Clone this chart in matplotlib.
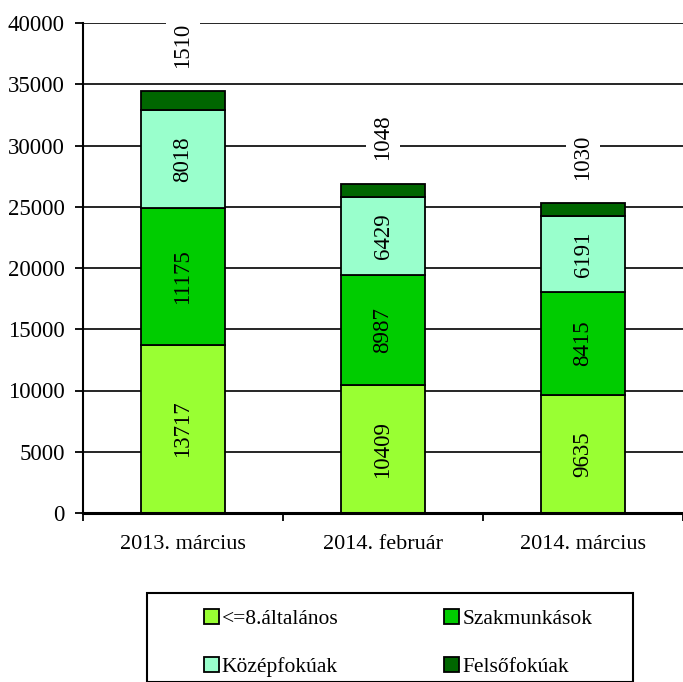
import matplotlib
matplotlib.use("Agg")
import matplotlib.pyplot as plt
import matplotlib.patches as mpatches
import numpy as np

plt.rcParams["font.family"] = ["Liberation Serif", "DejaVu Serif"]

categories = ["2013. március", "2014. február", "2014. március"]
series_names = ["<=8.általános", "Szakmunkások", "Középfokúak", "Felsőfokúak"]
altalanos = [13717, 10409, 9635]
szakmunkas = [11175, 8987, 8415]
kozepfoku = [8018, 6429, 6191]
felsofoku = [1510, 1048, 1030]
colors = ["#99FF33", "#00CC00", "#99FFCC", "#006600"]

fig = plt.figure(figsize=(6.83, 6.82), dpi=100)
ax = fig.add_axes([83 / 683, 1 - 513 / 682, 600 / 683, 490 / 682])

x = np.arange(len(categories))
bottom = np.zeros(len(categories))
for name, vals, col in zip(series_names, [altalanos, szakmunkas, kozepfoku, felsofoku], colors):
    bars = ax.bar(x, vals, width=0.42, bottom=bottom, color=col, edgecolor="black",
                  linewidth=1.3, label=name, zorder=3)
    bottom += np.array(vals)
    if name != "Felsőfokúak":
        for b, v in zip(bars, vals):
            ax.text(b.get_x() + b.get_width() / 2, b.get_y() + b.get_height() / 2, str(v),
                    rotation=90, ha="center", va="center", fontsize=16.5, zorder=4)
    else:
        for b, v in zip(bars, vals):
            ax.annotate(str(v), (b.get_x() + b.get_width() / 2, b.get_y() + b.get_height()),
                        xytext=(0, 17), textcoords="offset points", rotation=90,
                        ha="center", va="bottom", fontsize=16.5, zorder=4,
                        bbox=dict(boxstyle="square,pad=0.3", facecolor="white", edgecolor="none"))

ax.set_xlim(-0.5, 2.5)
ax.set_ylim(0, 40000)
ax.set_yticks(np.arange(0, 40001, 5000))
ax.yaxis.grid(True, color="black", linewidth=1.2, zorder=0)
ax.set_axisbelow(True)
ax.set_xticks([-0.5, 0.5, 1.5, 2.5])
ax.set_xticklabels([])
ax.set_xticks(x, minor=True)
ax.set_xticklabels(categories, minor=True)
ax.tick_params(axis="x", which="minor", length=0, labelsize=16, pad=16)
ax.tick_params(axis="x", which="major", length=6, width=1.3, direction="out")
ax.tick_params(axis="y", length=6, width=1.3, labelsize=16.5, pad=7)
for s in ["top", "right"]:
    ax.spines[s].set_visible(False)
ax.spines["left"].set_linewidth(1.5)
ax.spines["bottom"].set_linewidth(2.2)
ax.spines["bottom"].set_zorder(5)

# legend frame
fig.patches.append(mpatches.Rectangle((147 / 683, 1 - 682 / 682), 486 / 683, 89 / 682,
                                      transform=fig.transFigure, facecolor="none",
                                      edgecolor="black", linewidth=1.5))
handles, labels = ax.get_legend_handles_labels()
order = [0, 2, 1, 3]  # row-wise like the original
fig.legend([handles[i] for i in order], [labels[i] for i in order], ncol=2, loc="center",
           bbox_to_anchor=(398 / 683, 1 - 643 / 682),
           frameon=False, fontsize=15.5, handlelength=0.7, handleheight=0.7,
           handletextpad=0.15, columnspacing=4.9, labelspacing=1.3)

fig.savefig("out.png", dpi=100)
